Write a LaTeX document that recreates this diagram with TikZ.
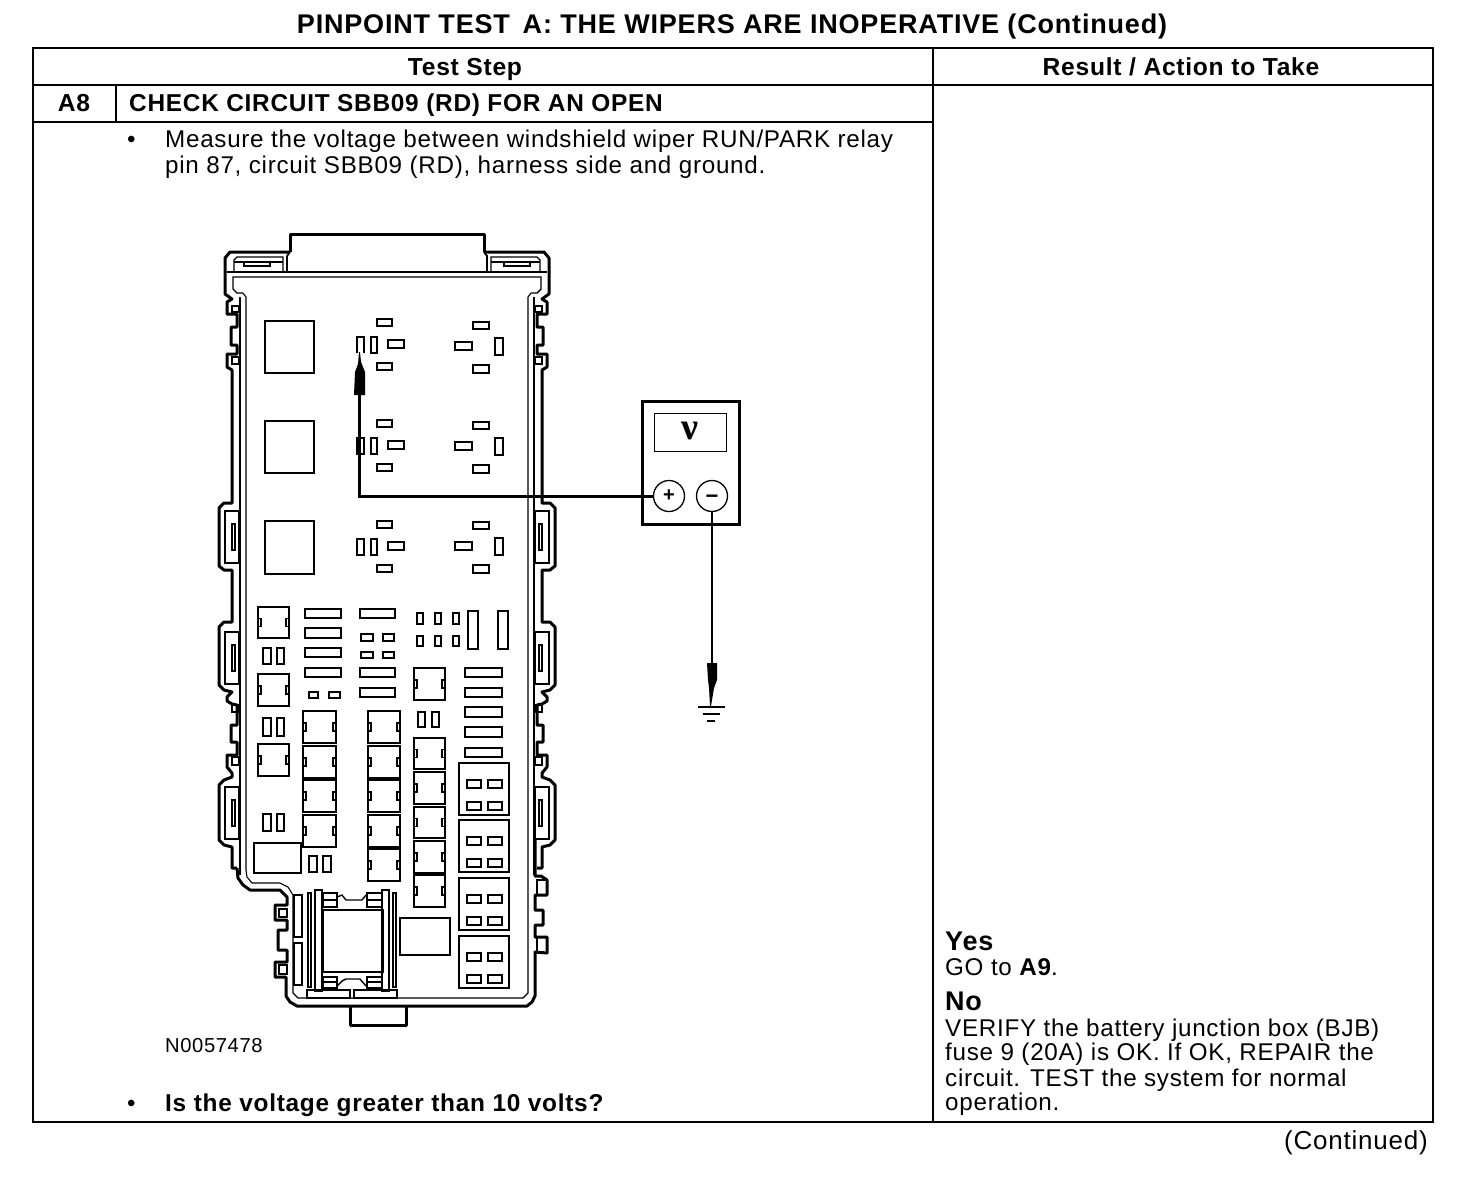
\documentclass[tikz,border=0pt]{standalone}
\usepackage{fontspec}
\setmainfont{Liberation Sans}
\newfontfamily\rgfont[LetterSpace=3]{Liberation Sans}
\newfontfamily\bfnt[LetterSpace=3,BoldFont={Liberation Sans Bold}]{Liberation Sans Bold}
\newfontfamily\nufont{Liberation Serif Bold}
\newcommand{\rr}[5][fp]{\draw[#1] (#2,#3) rectangle (#4,#5);}
% fuse with two side tabs
\newcommand{\fz}[4]{\draw[fp] (#1,#2) rectangle (#3,#4);
  \pgfmathsetmacro{\mm}{(#2+#4)/2}
  \draw[thn] (#1,\mm-4) rectangle (#1+3,\mm+4);
  \draw[thn] (#3-3,\mm-4) rectangle (#3,\mm+4);}
\newcommand{\relayL}[1]{\begin{scope}[yshift=-#1pt]
  \rr{377}{319}{392}{326}\rr{371}{337}{377}{353}\rr{388}{340}{404}{348}\rr{377}{363}{392}{370}
  \end{scope}}
\newcommand{\relayR}[1]{\begin{scope}[yshift=-#1pt]
  \rr{473}{322}{489}{329}\rr[fpb]{455}{342}{472}{350}\rr[fpb]{495}{338}{503}{355}\rr{473}{365}{489}{373}
  \end{scope}}
\newcommand{\bigconn}[1]{\rr[fpb]{459}{#1}{509}{#1+52}
  \rr{467}{#1+17}{481}{#1+25}\rr{488}{#1+17}{502}{#1+25}
  \rr{467}{#1+39}{481}{#1+47}\rr{488}{#1+39}{502}{#1+47}}
\newcommand{\sideclip}[1]{\rr[thn]{225}{#1}{239}{#1+52}\rr[thn]{232}{#1+13}{235}{#1+39}}
\newcommand{\halfside}{%
  % outer thick contour, upper part down to the bottom step
  \draw[outl] (290,252) -- (230,252) -- (225,258) -- (225,294) -- (232,299) -- (227,302) -- (227,314)
    -- (237,314) -- (237,327) -- (231,327) -- (231,345) -- (237,345) -- (237,354) -- (227,354)
    -- (227,367) -- (232,370) -- (232,503) -- (224,503) -- (219,508) -- (219,566) -- (224,570) -- (232,570)
    -- (232,622) -- (224,622) -- (219,627) -- (219,685) -- (224,690) -- (232,692) -- (227,697) -- (227,701)
    -- (232,704) -- (237,705) -- (237,725) -- (231,725) -- (231,742) -- (237,742) -- (237,755) -- (227,755)
    -- (227,767) -- (232,773) -- (232,777) -- (224,780) -- (219,785) -- (219,840) -- (224,845) -- (232,847)
    -- (232,868) -- (237,868);
  \draw[midl] (240,297) -- (240,875);
  \draw[midl] (227,272) -- (387,272);
  \draw[fp] (387,277) -- (233,277) -- (233,289) -- (237,293) -- (243,293);
  \draw[thn] (243,293) -- (246,297) -- (246,870);
  \draw[fp] (234,272) -- (234,260) -- (237,257) -- (283,257) -- (283,272);
  \draw[midl] (287,272) -- (287,256) -- (290,252);
  \draw[thn] (234,262) -- (283,262);
  \draw[fp] (244,262) rectangle (270,266);
  \sideclip{511}\sideclip{632}\sideclip{787}
  \rr[thn]{232}{306}{239}{312}\rr[thn]{232}{357}{239}{364}\rr[thn]{232}{705}{239}{712}\rr[thn]{232}{757}{239}{765}
}
\tikzset{
  fp/.style={draw=black,line width=1.4pt},
  fpb/.style={draw=black,line width=2pt},
  thn/.style={draw=black,line width=1.1pt},
  midl/.style={draw=black,line width=1.8pt},
  outl/.style={draw=black,line width=3pt,line join=round},
  grid/.style={draw=black,line width=2pt},
  reg/.style={anchor=base west,inner sep=0pt,font=\rgfont\fontsize{24.2}{25}\selectfont},
  bld/.style={anchor=base west,inner sep=0pt,font=\bfnt\fontsize{24.4}{25}\selectfont},
  ctr/.style={anchor=base,inner sep=0pt,font=\bfnt\fontsize{24.6}{25}\selectfont},
  wire/.style={draw=black,line width=3pt},
  lead/.style={draw=black,line width=2.6pt},
}
\begin{document}
\begin{tikzpicture}[x=1pt,y=-1pt]
\useasboundingbox (0,0) rectangle (1472,1192);
\fill[white] (0,0) rectangle (1472,1192);
% table
\draw[grid] (33,48) rectangle (1433,1122);
\draw[grid] (33,85) -- (1433,85);
\draw[grid] (33,122) -- (933,122);
\draw[grid] (933,48) -- (933,1122);
\draw[grid] (116,85) -- (116,122);
% texts
\node[ctr,font=\bfnt\fontsize{27}{28}\selectfont] (title) at (732,33) {PINPOINT TEST\, A: THE WIPERS ARE INOPERATIVE (Continued)};
\node[ctr] (ts) at (465,75) {Test Step};
\node[ctr] (ra) at (1181,75) {Result / Action to Take};
\node[ctr] (a8) at (74,111) {A8};
\node[bld] (chk) at (129,111) {CHECK CIRCUIT SBB09 (RD) FOR AN OPEN};
\node[reg] (b1) at (127,147) {•};
\node[reg] (m1) at (165,147) {Measure the voltage between windshield wiper RUN/PARK relay};
\node[reg] (m2) at (165,173) {pin 87, circuit SBB09 (RD), harness side and ground.};
\node[reg,font=\rgfont\fontsize{20.2}{21}\selectfont] (nn) at (165,1052) {N0057478};
\node[reg] (b2) at (127,1111) {•};
\node[bld] (q) at (165,1111) {Is the voltage greater than 10 volts?};
\node[bld,font=\bfnt\fontsize{27}{28}\selectfont] (yes) at (945,950) {Yes};
\node[reg] (go) at (945,975) {GO to {\bfnt A9}.};
\node[bld,font=\bfnt\fontsize{27}{28}\selectfont] (no) at (945,1010) {No};
\node[reg] (v1) at (945,1036) {VERIFY the battery junction box (BJB)};
\node[reg] (v2) at (945,1060) {fuse 9 (20A) is OK. If OK, REPAIR the};
\node[reg] (v3) at (945,1086) {circuit. TEST the system for normal};
\node[reg] (v4) at (945,1110) {operation.};
\node[reg,anchor=base east,font=\rgfont\fontsize{26}{27}\selectfont] (cont) at (1428,1149) {(Continued)};
% fuse box contour
\draw[outl] (290,252) -- (290,234) -- (484,234) -- (484,252);
\halfside
\begin{scope}[xscale=-1,xshift=-774pt]
\halfside
\end{scope}
% lower contour
\draw[outl] (237,868) -- (238,878) -- (243,885) -- (250,890) -- (280,890) -- (287,897) -- (287,905) -- (275,905)
  -- (275,920) -- (287,920) -- (287,930) -- (278,930) -- (278,950) -- (287,950) -- (287,962) -- (275,962) -- (275,977) -- (286,977)
  -- (286,996) -- (290,1002) -- (297,1006) -- (527,1006) -- (532,1002) -- (535,996) -- (535,952)
  -- (547,953) -- (547,937) -- (535,937) -- (535,925) -- (543,925) -- (543,910) -- (535,910) -- (535,895)
  -- (547,895) -- (547,880) -- (541,876) -- (535,876) -- (535,840);
\draw[thn] (246,870) -- (247,877) -- (252,883) -- (280,883) -- (288,887) -- (293,895) -- (293,993) -- (298,998)
  -- (523,998) -- (528,993) -- (528,870);
\rr[thn]{294}{895}{302}{937}\rr[thn]{294}{943}{302}{985}
\rr[thn]{307}{990}{350}{998}\rr[thn]{354}{990}{397}{998}
\draw[outl] (350,1007) -- (350,1025) -- (406,1025) -- (406,1007);
\rr[thn]{279}{909}{287}{917}\rr[thn]{279}{965}{287}{974}
\rr[thn]{537}{880}{547}{895}\rr[thn]{537}{937}{547}{953}
% relay squares
\rr[fpb]{265}{321}{314}{373}\rr[fpb]{265}{421}{314}{473}\rr[fpb]{265}{521}{314}{574}
\relayL{0}\relayL{101}\relayL{202}
\relayR{0}\relayR{100}\relayR{200}
\draw[fp] (357,353) -- (357,337) -- (364,337) -- (364,353);
\rr{357}{438}{364}{454}\rr[fpb]{357}{539}{364}{555}
% fuses
\fz{258}{607}{289}{638}\fz{258}{674}{289}{706}\fz{258}{744}{289}{776}
\fz{303}{711}{336}{743}\fz{303}{746}{336}{778}\fz{303}{780}{336}{812}\fz{303}{815}{336}{847}
\fz{368}{711}{400}{743}\fz{368}{746}{400}{778}\fz{368}{780}{400}{812}\fz{368}{815}{400}{847}\fz{368}{849}{400}{881}
\fz{414}{668}{445}{700}\fz{414}{738}{445}{769}\fz{414}{772}{445}{804}\fz{414}{807}{445}{838}\fz{414}{841}{445}{873}\fz{414}{875}{445}{907}
% pairs
\rr{263}{648}{271}{664}\rr{277}{648}{284}{664}
\rr[fpb]{263}{718}{271}{736}\rr[fpb]{277}{718}{284}{736}
\rr{263}{814}{271}{831}\rr{277}{814}{284}{831}
\rr{309}{856}{317}{872}\rr{323}{856}{331}{872}
\rr[fpb]{418}{712}{425}{727}\rr[fpb]{432}{712}{439}{727}
% bars
\rr{305}{609}{341}{618}\rr{305}{628}{341}{638}\rr{305}{648}{341}{657}\rr{305}{668}{341}{677}
\rr{309}{692}{318}{698}\rr{329}{692}{340}{698}
\rr{360}{609}{395}{618}\rr{360}{668}{395}{677}\rr{360}{688}{395}{697}
\rr[fpb]{361}{634}{373}{641}\rr[fpb]{383}{634}{394}{641}\rr[fpb]{361}{652}{373}{658}\rr[fpb]{383}{652}{394}{658}
\rr{417}{613}{423}{624}\rr{435}{613}{441}{624}\rr{453}{613}{459}{624}
\rr{417}{636}{423}{646}\rr{435}{636}{441}{646}\rr{453}{636}{459}{646}
\rr{468}{611}{478}{649}\rr{498}{611}{508}{649}
\rr{465}{668}{502}{677}\rr{465}{688}{502}{697}\rr[fpb]{465}{707}{502}{717}\rr[fpb]{465}{727}{502}{737}\rr{465}{748}{502}{757}
% boxes
\rr[fpb]{254}{843}{301}{873}\rr{400}{918}{450}{955}
\bigconn{763}\bigconn{820}\bigconn{878}\bigconn{936}
% centre relay
\rr[fpb]{323}{910}{383}{972}
\rr{315}{890}{322}{991}\rr{382}{890}{389}{991}
\rr{308}{893}{311}{987}\rr{393}{893}{396}{987}
\rr[thn]{323}{893}{337}{907}\rr[thn]{367}{893}{382}{907}
\rr[thn]{323}{977}{337}{988}\rr[thn]{367}{977}{382}{988}
\draw[thn] (323,900) -- (337,900) (367,900) -- (382,900) (323,982) -- (337,982) (367,982) -- (382,982);
\draw[fp] (337,897) -- (342,895) -- (346,900) -- (362,900) -- (366,895);
\draw[fp] (337,986) -- (342,981) -- (346,979) -- (360,979) -- (366,986);
% meter
\node[draw,line width=3pt,minimum width=97pt,minimum height=123pt,inner sep=0pt] (meter) at (690.5,463) {};
\node[draw,line width=1.6pt,minimum width=72pt,minimum height=38pt,inner sep=0pt] (screen) at (690.5,432.5) {};
\node[inner sep=0pt,font=\nufont\fontsize{38}{38}\selectfont] (vsym) at (690,431) {ν};
\node[draw,circle,line width=1.3pt,minimum size=31pt,inner sep=0pt,font=\bfnt\fontsize{20}{20}\selectfont,fill=white] (plus) at (669,496) {+};
\node[draw,circle,line width=1.3pt,minimum size=31pt,inner sep=0pt,font=\bfnt\fontsize{22}{22}\selectfont,fill=white] (minus) at (712,496) {\smash{\raisebox{-7.5pt}{−}}};
% leads
\coordinate (pb) at (359,395);
\coordinate (pg) at (712,663);
\draw[wire] (plus.west) -- (359,496) -- (pb);
\fill[black] (354,395) -- (365,395) -- (365,372) -- (361,362) -- (360,352) -- (359,352) -- (358,364) -- (355,372) -- cycle;
\draw[lead] (minus.south) -- (pg);
\fill[black] (707,663) -- (717,663) -- (717,680) -- (714,688) -- (711,706) -- (710,706) -- (709,688) -- (708,680) -- cycle;
% ground
\draw[line width=2.4pt] (698,707) -- (725,707);
\draw[line width=2.4pt] (703,714) -- (720,714);
\draw[line width=2.4pt] (707,721) -- (715,721);
\end{tikzpicture}
\end{document}
